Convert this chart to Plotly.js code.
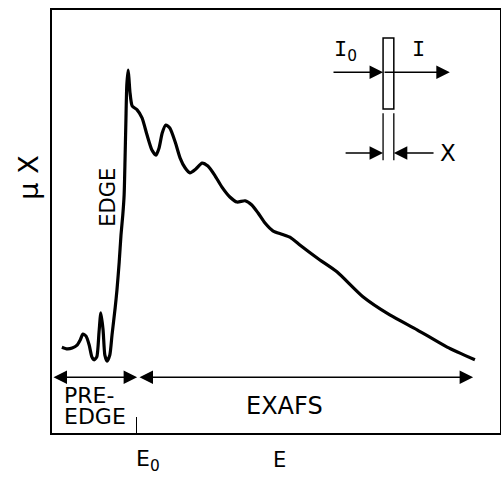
<!DOCTYPE html>
<html>
<head>
<meta charset="utf-8">
<script src="https://cdn.plot.ly/plotly-3.0.1.min.js"></script>
<style>html,body{margin:0;padding:0;background:#fff}#plot{width:501px;height:477px}</style>
</head>
<body>
<div id="plot"></div>
<script>
// Schematic X-ray absorption spectrum (arbitrary units)
const energy = [2.2,3.4,4.5,5.6,6.3,6.9,7.6,8.3,8.9,9.4,10.0,10.5,10.9,11.4,11.8,12.3,12.9,13.4,14.1,14.5,15.0,15.4,15.8,16.1,16.3,16.5,16.7,17.0,17.2,17.4,17.9,19.0,20.1,21.2,22.3,23.2,23.9,24.6,25.4,26.3,27.5,28.6,29.7,30.8,32.1,33.5,34.8,36.4,37.9,39.7,41.3,43.1,44.6,46.0,47.5,49.3,51.3,53.1,55.4,57.6,59.8,63.6,69.4,75.4,81.5,88.2,94.4];
const muX = [20.3,19.9,20.1,20.8,22.0,23.4,22.9,20.8,18.0,17.3,18.0,23.9,28.4,24.4,18.4,17.0,18.4,23.2,29.6,33.8,40.4,46.8,51.5,56.3,64.5,74.0,82.3,85.8,83.5,80.6,77.3,76.4,74.5,70.5,66.9,65.7,67.4,70.9,72.8,72.1,68.8,65.0,62.7,61.5,62.4,63.8,63.1,60.8,58.2,55.8,54.6,54.9,53.9,52.0,49.7,47.8,47.0,46.3,44.4,42.6,40.9,38.1,32.2,27.9,24.4,20.3,17.3];

const edgeEnergy = [18.8];           // E0
const regionStart = [0, 19.2];       // PRE-EDGE, EXAFS arrows
const regionEnd = [19.0, 94.0];
const regionArrowLevel = 13.2;
const axisLabels = {x: 'E', y: 'μ X'};
const textLabels = ['PRE-', 'EDGE', 'EXAFS', 'EDGE'];

const black = '#000';
const sans = 'DejaVu Sans, sans-serif';
const mono = 'Liberation Mono, monospace';
const sub0 = '<sub><span style="font-family:DejaVu Sans">0</span></sub>';

const trace = {
  x: energy, y: muX, type: 'scatter', mode: 'lines',
  line: {color: black, width: 3.2, shape: 'spline', smoothing: 0.6},
  hoverinfo: 'skip'
};

function arrow(x, y, ax, ay, both) {
  return {
    x: x, y: y, ax: ax, ay: ay, xref: 'x', yref: 'y', axref: 'x', ayref: 'y',
    text: '', showarrow: true, arrowhead: 2, arrowsize: 1.8, arrowwidth: 1.5,
    arrowcolor: black, standoff: 0, startstandoff: 0,
    arrowside: both ? 'end+start' : 'end', startarrowhead: 2, startarrowsize: 1.8
  };
}
function label(text, x, y, size, opts) {
  return Object.assign({
    x: x, y: y, xref: 'x', yref: 'y', text: text, showarrow: false,
    font: {family: sans, size: size, color: black}, xanchor: 'center', yanchor: 'middle'
  }, opts || {});
}

// inset geometry (sample slab)
const slabX = [73.9, 76.3];
const slabY = [76.6, 93.4];
const beamY = 85.3;
const beamX = [62.5, 88.8];
const dimY = 66.2;

const annotations = [
  arrow(regionEnd[0], regionArrowLevel, regionStart[0], regionArrowLevel, true),
  arrow(regionEnd[1], regionArrowLevel, regionStart[1], regionArrowLevel, true),
  label(textLabels[0], 2.2, 9.0, 22, {xanchor: 'left', height: 20}),
  label(textLabels[1], 2.2, 4.1, 22, {xanchor: 'left', height: 20}),
  label(textLabels[2], 52.0, 6.4, 24),
  label(textLabels[3], 12.5, 55.6, 21, {textangle: -90}),
  label('E' + sub0, 21.4, 0, 22, {yref: 'paper', y: -0.065}),
  label(axisLabels.x, 50.7, 0, 21, {yref: 'paper', y: -0.063}),
  label(axisLabels.y, -0.052, 0.603, 27, {xref: 'paper', yref: 'paper', textangle: -90}),
  // inset
  arrow(slabX[0], beamY, beamX[0], beamY, false),
  arrow(beamX[1], beamY, slabX[0], beamY, false),
  arrow(slabX[0], dimY, 65.2, dimY, false),
  arrow(slabX[1], dimY, 85.5, dimY, false),
  label('I' + sub0, 65.6, 90.1, 22, {font: {family: mono, size: 22, color: black}}),
  label('I', 81.9, 90.5, 22, {font: {family: mono, size: 22, color: black}}),
  label('X', 88.5, 66.3, 23)
];

const shapes = [
  {type: 'rect', xref: 'x', yref: 'y', x0: slabX[0], x1: slabX[1], y0: slabY[0], y1: slabY[1],
   line: {color: black, width: 1.5}, fillcolor: 'rgba(0,0,0,0)'},
  {type: 'line', xref: 'x', yref: 'y', x0: slabX[0], x1: slabX[0], y0: 64.5, y1: 75.6, line: {color: black, width: 1.3}},
  {type: 'line', xref: 'x', yref: 'y', x0: slabX[1], x1: slabX[1], y0: 64.5, y1: 75.6, line: {color: black, width: 1.3}}
];

const layout = {
  width: 501, height: 477,
  margin: {l: 52, r: 1, t: 10, b: 44},
  paper_bgcolor: '#fff', plot_bgcolor: '#fff',
  showlegend: false,
  xaxis: {range: [0, 100], showgrid: false, zeroline: false, showline: true, mirror: true,
          linecolor: black, linewidth: 2, ticks: 'inside', tickvals: edgeEnergy, ticklen: 16,
          tickwidth: 1.3, tickcolor: black, showticklabels: false, fixedrange: true},
  yaxis: {range: [0, 100], showgrid: false, zeroline: false, showline: true, mirror: true,
          linecolor: black, linewidth: 2, ticks: '', showticklabels: false, fixedrange: true},
  annotations: annotations,
  shapes: shapes
};

Plotly.newPlot('plot', [trace], layout, {staticPlot: true, displayModeBar: false});
</script>
</body>
</html>
